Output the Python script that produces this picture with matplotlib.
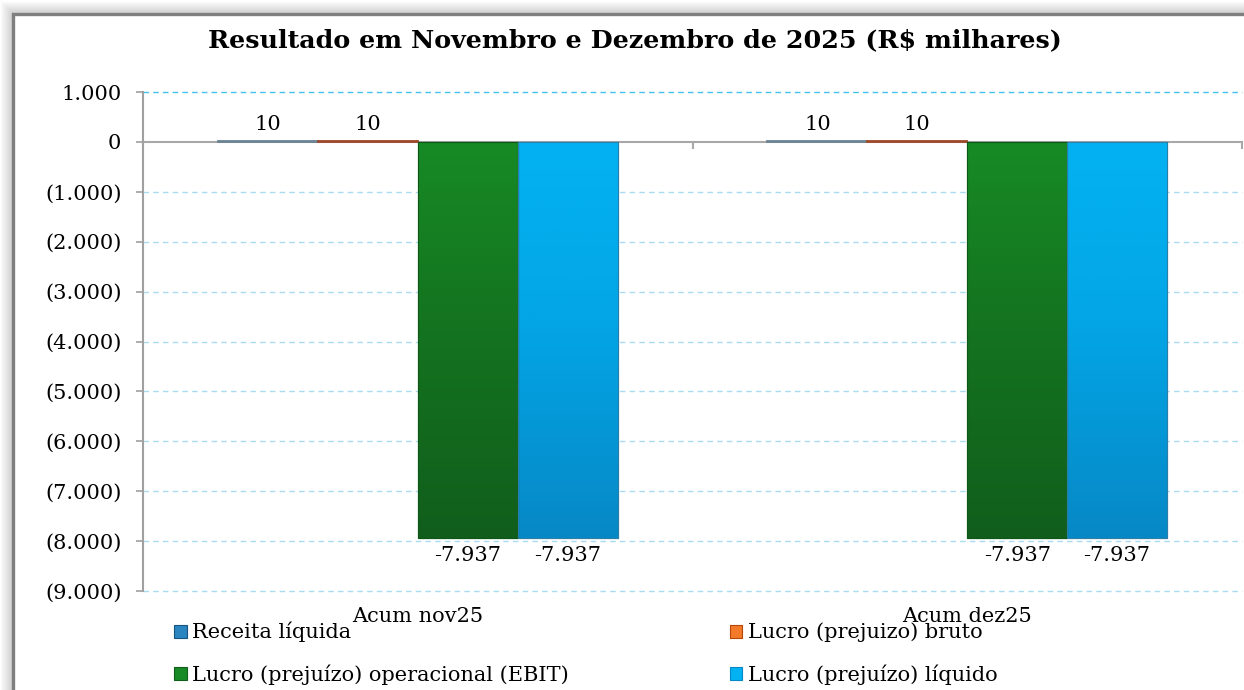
import numpy as np
import matplotlib
matplotlib.use("Agg")
import matplotlib.pyplot as plt
from matplotlib.patches import Rectangle, Patch
from matplotlib.colors import LinearSegmentedColormap
from matplotlib.ticker import FuncFormatter, MultipleLocator, FixedLocator
import matplotlib.transforms as mtransforms

# ---------------- data ----------------
categories = ["Acum nov25", "Acum dez25"]
series_names = ["Receita líquida", "Lucro (prejuizo) bruto",
                "Lucro (prejuízo) operacional (EBIT)", "Lucro (prejuízo) líquido"]
receita = [10, 10]
lucro_bruto = [10, 10]
ebit = [-7937, -7937]
lucro_liquido = [-7937, -7937]
title = "Resultado em Novembro e Dezembro de 2025 (R$ milhares)"
y_min, y_max, y_step = -9000, 1000, 1000

series_values = [receita, lucro_bruto, ebit, lucro_liquido]
top_colors = ["#2b86c0", "#f27a2a", "#178a25", "#03b2f2"]
mid_colors = ["#22699a", "#d85e14", "#147420", "#03a6e6"]
bottom_colors = ["#175580", "#b84506", "#115e1c", "#0788c6"]
edge_colors = ["#6c8494", "#a0482a", "#0e5518", "#2a7ea8"]

FONT = "DejaVu Serif"
plt.rcParams["font.family"] = [FONT, "DejaVu Sans"]
FS = 15

W, H = 1244, 690
fig = plt.figure(figsize=(W / 100, H / 100), dpi=100)
fig.patch.set_facecolor("white")

def fx(px):
    return px / W

def fy(py):
    return 1 - py / H

# ---------------- outer frame with shadow ----------------
for i in range(12, 0, -1):
    g = 0.80 + 0.18 * (i / 12.0)
    fig.patches.append(Rectangle((fx(13 - i), fy(H + 30)), fx(W + 60), (H + 30 - (14 - i)) / H,
                                 transform=fig.transFigure, fill=False,
                                 edgecolor=(g, g, g), linewidth=0.75, zorder=-3))
fig.patches.append(Rectangle((fx(13), fy(H + 30)), fx(W + 60), (H + 30 - 14) / H,
                             transform=fig.transFigure, facecolor="white",
                             edgecolor="#7f7f7f", linewidth=2.4, zorder=-2))

# ---------------- axes ----------------
ax_left, ax_right, ax_top, ax_bottom = 143, 1242, 92, 591
ax = fig.add_axes([fx(ax_left), fy(ax_bottom), fx(ax_right - ax_left), (ax_bottom - ax_top) / H])
ax.set_facecolor("none")
ax.set_zorder(2)

n_cat = len(categories)
n_ser = len(series_values)
x = np.arange(n_cat)
width = 1.0 / (n_ser + 1.5)

def fmt_val(v):
    s = f"{abs(int(round(v))):,}".replace(",", ".")
    return ("-" + s) if v < 0 else s

for si, vals in enumerate(series_values):
    pos = x + (si - (n_ser - 1) / 2) * width
    bars = ax.bar(pos, vals, width=width, color=top_colors[si], edgecolor=edge_colors[si],
                  linewidth=1.3 if abs(vals[0]) < 100 else 0.8, zorder=3)
    cmap = LinearSegmentedColormap.from_list(
        f"g{si}", [(0, top_colors[si]), (0.45, mid_colors[si]), (1, bottom_colors[si])])
    for b, v in zip(bars, vals):
        if abs(v) >= 100:
            x0, y0 = b.get_x(), b.get_y()
            w, h = b.get_width(), b.get_height()
            grad = np.linspace(0, 1, 256).reshape(-1, 1)
            if h < 0:
                extent = [x0, x0 + w, y0 + h, y0]
            else:
                extent = [x0, x0 + w, y0, y0 + h]
                grad = grad[::-1]
            im = ax.imshow(grad, extent=extent, aspect="auto", cmap=cmap,
                           origin="upper", zorder=3.5, interpolation="bicubic")
            im.set_clip_path(b)
            ax.add_patch(Rectangle((x0, y0), w, h, fill=False, edgecolor=edge_colors[si],
                                   linewidth=0.8, zorder=3.6))
        off = 12 if v >= 0 else -12.5
        ax.annotate(fmt_val(v), (b.get_x() + b.get_width() / 2, v),
                    xytext=(0, off), textcoords="offset points",
                    ha="center", va="center", fontsize=FS, color="black", zorder=5)

ax.set_xlim(-0.5, n_cat - 0.5)
ax.set_ylim(y_min, y_max)

# y axis
ax.yaxis.set_major_locator(MultipleLocator(y_step))
def yfmt(v, pos):
    if abs(v) < 1e-9:
        return "0"
    s = f"{abs(int(round(v))):,}".replace(",", ".")
    return f"({s})" if v < 0 else s
ax.yaxis.set_major_formatter(FuncFormatter(yfmt))
ax.tick_params(axis="y", length=5, width=1.2, color="#a0a0a0", pad=10.5,
               labelsize=FS, labelcolor="black")

# dashed gridlines (top one stronger)
ticks = np.arange(y_min, y_max + y_step, y_step)
grid_ticks = [t for t in ticks if t != 0 and t != y_max]
ax.hlines(grid_ticks, -0.5, n_cat - 0.5, colors="#a9dcf1", linestyles=(0, (4, 3)),
          linewidth=1.0, zorder=0, clip_on=False)
ax.hlines([y_max], -0.5, n_cat - 0.5, colors="#45c1ee", linestyles=(0, (4, 3)),
          linewidth=1.0, zorder=1, clip_on=False)

# spines
for s in ["top", "right"]:
    ax.spines[s].set_visible(False)
ax.spines["left"].set_color("#a0a0a0")
ax.spines["left"].set_linewidth(1.5)
ax.spines["bottom"].set_position(("data", 0))
ax.spines["bottom"].set_color("#a8a8a8")
ax.spines["bottom"].set_linewidth(1.5)
ax.spines["bottom"].set_zorder(2)

# x axis: boundary ticks on zero line, labels under the plot
ax.xaxis.set_major_locator(FixedLocator(np.arange(n_cat + 1) - 0.5))
ax.tick_params(axis="x", length=5, width=1.5, color="#a8a8a8", labelbottom=False)
trans = mtransforms.blended_transform_factory(ax.transData, ax.transAxes)
for xi, c in zip(x, categories):
    ax.text(xi, -0.052, c, transform=trans, ha="center", va="center",
            fontsize=FS, color="black", zorder=6)

# title
fig.text(fx(635), fy(40), title, ha="center", va="center", fontsize=18.3,
         fontweight="bold", color="black")

# legend (row-wise order: matplotlib fills columns first)
handles = [Patch(facecolor=top_colors[i], edgecolor=bottom_colors[i], linewidth=0.8)
           for i in range(n_ser)]
order = [0, 2, 1, 3]
leg = fig.legend([handles[i] for i in order], [series_names[i] for i in order],
                 loc="upper left",
                 bbox_to_anchor=(fx(174), fy(622)), ncol=2, frameon=False,
                 fontsize=FS, handlelength=0.6, handleheight=0.6,
                 handletextpad=0.25, columnspacing=7.75, labelspacing=1.05,
                 borderpad=0.0, borderaxespad=0.0)

fig.savefig("out.png", dpi=100, facecolor="white")
